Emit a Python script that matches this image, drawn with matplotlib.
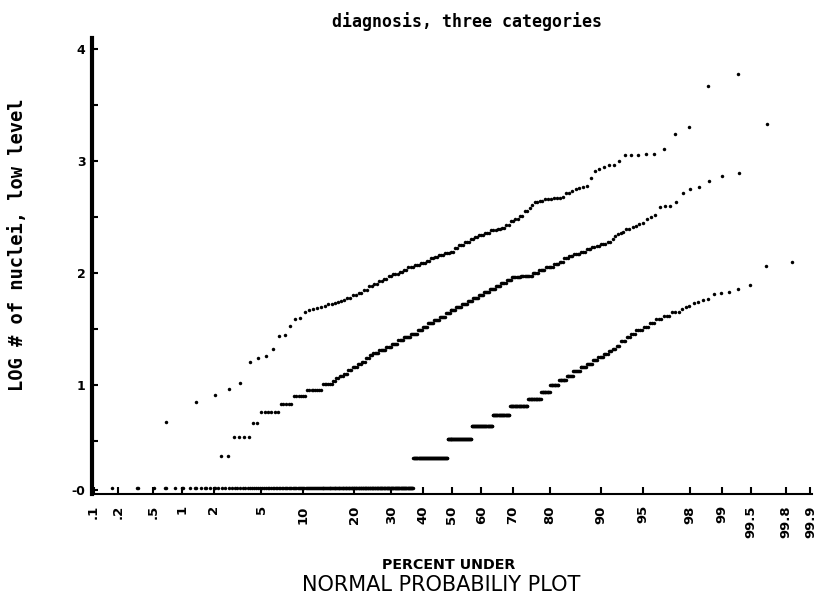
import numpy as np
import matplotlib
matplotlib.use("Agg")
from matplotlib import pyplot as plt
from statistics import NormalDist

# sorted data of each category, kept as  level -> number of cases
# (levels: LOG # of nuclei, low level)

# category with the highest values (upper curve)
cat1_levels = [0.67, 0.845, 0.91, 0.964, 1.015, 1.21, 1.24, 1.26, 1.32, 1.44,
               1.45, 1.53, 1.59, 1.60, 1.65, 1.67, 1.68, 1.69, 1.70, 1.71,
               1.72, 1.725, 1.735, 1.74, 1.75, 1.76,
               1.78, 1.80, 1.82, 1.85, 1.88, 1.90, 1.93, 1.95, 1.97, 1.99,
               2.01, 2.03, 2.05, 2.07, 2.09, 2.11, 2.13, 2.145, 2.16, 2.18,
               2.19, 2.22, 2.25, 2.28, 2.30, 2.32, 2.34, 2.36, 2.38, 2.39,
               2.40, 2.43, 2.46, 2.48, 2.51, 2.55, 2.58, 2.61, 2.63, 2.645,
               2.66, 2.67, 2.68, 2.71, 2.73, 2.75, 2.76, 2.77,
               2.78, 2.85, 2.91, 2.925, 2.95, 2.96, 3.00, 3.05, 3.06, 3.11,
               3.24, 3.30, 3.67, 3.78]
cat1_counts = [1, 1, 1, 1, 1, 1, 1, 1, 1, 1,
               1, 1, 1, 1, 1, 1, 1, 1, 1, 1,
               1, 1, 1, 1, 1, 1,
               2, 2, 2, 2, 2, 2, 2, 2, 2, 3,
               2, 2, 3, 3, 3, 2, 2, 2, 3, 3,
               2, 2, 3, 3, 2, 2, 3, 3, 3, 2,
               2, 2, 2, 2, 2, 2, 1, 1, 2, 2,
               3, 3, 1, 2, 1, 1, 1, 1,
               1, 1, 1, 1, 1, 2, 1, 3, 2, 1,
               1, 1, 1, 1]

# middle category
cat2_levels = [0.08, 0.366, 0.536, 0.66, 0.76, 0.83, 0.905, 0.955, 1.006, 1.04,
               1.06, 1.08, 1.10, 1.13, 1.16, 1.19, 1.21, 1.24, 1.27, 1.29,
               1.31, 1.34, 1.37, 1.40, 1.43, 1.46, 1.49, 1.52, 1.55, 1.58,
               1.61, 1.64, 1.67, 1.70, 1.72, 1.75, 1.78, 1.80, 1.83, 1.86,
               1.88, 1.91, 1.94, 1.96, 1.97, 2.00, 2.03, 2.05, 2.08, 2.10,
               2.13, 2.15, 2.17, 2.19, 2.21, 2.23, 2.24, 2.26, 2.28, 2.30,
               2.33, 2.35, 2.36, 2.37, 2.39, 2.41, 2.42, 2.44, 2.45, 2.48,
               2.50, 2.52, 2.59, 2.60, 2.63, 2.71, 2.75, 2.77, 2.82, 2.87,
               2.89, 3.33]
cat2_counts = [6, 2, 4, 2, 6, 5, 6, 8, 6, 2,
               2, 3, 3, 3, 4, 3, 3, 3, 3, 5,
               6, 5, 6, 5, 7, 7, 5, 5, 6, 6,
               6, 5, 6, 6, 6, 5, 6, 5, 6, 6,
               5, 5, 5, 8, 10, 5, 5, 6, 4, 3,
               3, 3, 4, 3, 3, 2, 2, 3, 2, 1,
               1, 1, 1, 1, 2, 1, 1, 1, 1, 1,
               1, 1, 1, 2, 1, 1, 1, 1, 1, 1,
               1, 1]

# category with the lowest values (lower right curve)
cat3_levels = [0.08, 0.35, 0.52, 0.63, 0.73, 0.81, 0.875, 0.94,
               1.0, 1.045, 1.085, 1.125, 1.16, 1.19, 1.22, 1.25, 1.275, 1.30,
               1.325, 1.35, 1.39, 1.43, 1.46, 1.49, 1.52, 1.55, 1.59, 1.62,
               1.65, 1.68, 1.70, 1.71, 1.73, 1.74, 1.76, 1.77, 1.81, 1.82,
               1.83, 1.86, 1.89, 2.06, 2.10]
cat3_counts = [217, 68, 49, 41, 32, 31, 21, 13,
               12, 10, 8, 8, 7, 6, 5, 5, 4, 3,
               3, 3, 4, 3, 3, 4, 3, 3, 3, 3,
               3, 1, 1, 1, 1, 1, 1, 1, 1, 1,
               1, 1, 1, 1, 1]

pct_ticks = [0.1, 0.2, 0.5, 1, 2, 5, 10, 20, 30, 40, 50, 60, 70, 80, 90,
             95, 98, 99, 99.5, 99.8, 99.9]
pct_labels = ['.1', '.2', '.5', '1', '2', '5', '10', '20', '30', '40', '50',
              '60', '70', '80', '90', '95', '98', '99', '99.5', '99.8', '99.9']
y_ticks = [0.06, 1, 2, 3, 4]
y_labels = ['-0', '1', '2', '3', '4']
y_minor = [0.5, 1.5, 2.5, 3.5]

nd = NormalDist()


def pct_to_z(p):
    p = np.clip(np.asarray(p, dtype=float), 1e-6, 100 - 1e-6)
    return np.vectorize(lambda q: nd.inv_cdf(q / 100.0), otypes=[float])(p)


def z_to_pct(z):
    z = np.asarray(z, dtype=float)
    return np.vectorize(lambda t: 100.0 * nd.cdf(t), otypes=[float])(z)


def plotting_positions(levels, counts):
    vals = np.repeat(levels, counts)
    n = len(vals)
    pct = 100.0 * np.arange(1, n + 1) / (n + 1)
    return pct, vals


plt.rcParams['font.weight'] = 'bold'

fig = plt.figure(figsize=(8.16, 5.97), dpi=100)
ax = fig.add_axes([0.1132, 0.1725, 0.8814, 0.7642])
ax.set_xscale('function', functions=(pct_to_z, z_to_pct))

for lv, ct in [(cat1_levels, cat1_counts), (cat2_levels, cat2_counts),
               (cat3_levels, cat3_counts)]:
    x, y = plotting_positions(lv, ct)
    ax.plot(x, y, 'o', ms=2.5, color='black', mew=0)

ax.set_xlim(float(z_to_pct(-3.10)), float(z_to_pct(3.10)))
ax.set_ylim(0.027, 4.10)

ax.spines['top'].set_visible(False)
ax.spines['right'].set_visible(False)
ax.spines['left'].set_linewidth(3)
ax.spines['bottom'].set_linewidth(1.5)

ax.set_xticks(pct_ticks, pct_labels)
ax.set_yticks(y_ticks, y_labels)
ax.set_yticks(y_minor, minor=True)
ax.tick_params(axis='x', direction='in', length=5, width=1.5, pad=8,
               labelrotation=90, labelsize=9.5)
ax.tick_params(axis='y', which='both', direction='in', length=4, width=1.5,
               pad=5, labelsize=9)

fig.text(467 / 816, 1 - 22 / 597, 'diagnosis, three categories',
         ha='center', va='center', family='DejaVu Sans Mono', size=12)
fig.text(18 / 816, 1 - 245 / 597, 'LOG # of nuclei, low level',
         rotation=90, ha='center', va='center', family='DejaVu Sans Mono',
         size=13.5)
fig.text(449 / 816, 1 - 565 / 597, 'PERCENT UNDER',
         ha='center', va='center', size=10.3)
fig.text(441 / 816, 1 - 585 / 597, 'NORMAL PROBABILIY PLOT',
         ha='center', va='center', weight='normal', size=15)

fig.savefig('out.png', dpi=100)
